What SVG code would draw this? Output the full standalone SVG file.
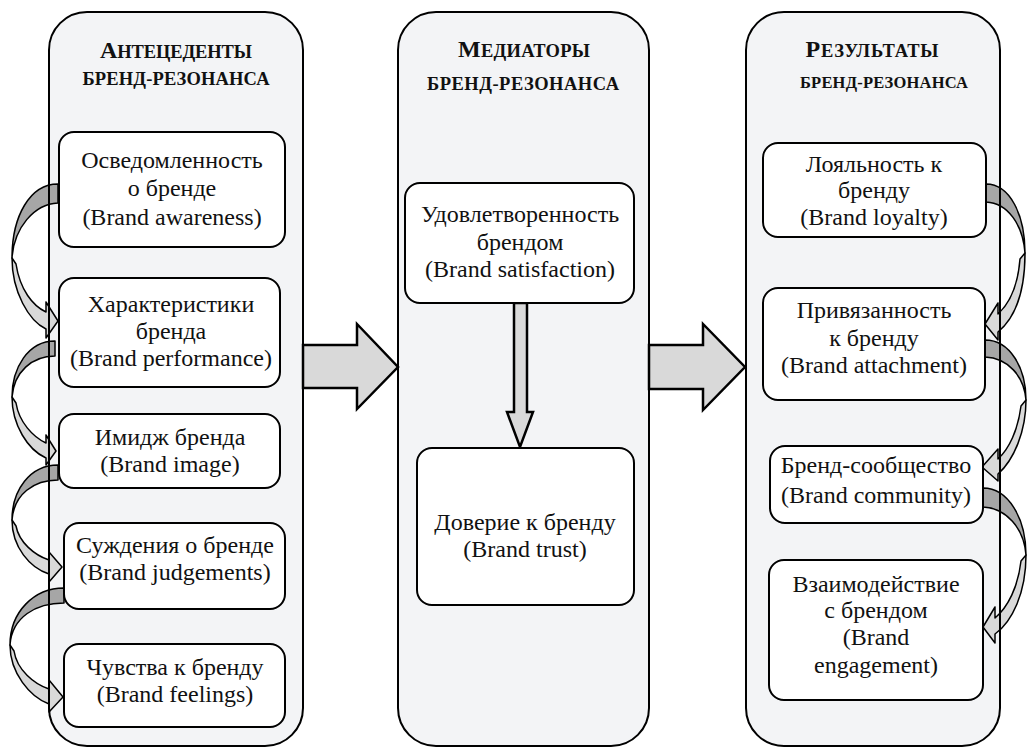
<svg xmlns="http://www.w3.org/2000/svg" width="1028" height="750" viewBox="0 0 1028 750">
<style>
.col{fill:#f3f4f6;stroke:none}
.colb{fill:none;stroke:#000;stroke-width:2}
.node{fill:#fff;stroke:#000;stroke-width:2}
.t{font-family:"Liberation Serif","Times New Roman",serif;font-size:24px;fill:#111;text-anchor:middle}
.h{font-family:"Liberation Serif","Times New Roman",serif;font-weight:bold;font-size:18.5px;fill:#111;text-anchor:middle}
.big{font-size:24px}
.sm{font-size:16.5px}
.dark{fill:#a6a6a6;stroke:#000;stroke-width:1.5;stroke-linejoin:round}
.light{fill:#d9d9d9;stroke:#000;stroke-width:1.5;stroke-linejoin:round}
.arr{fill:#d9d9d9;stroke:#000;stroke-width:2.5;stroke-linejoin:miter}
</style>
<g id="columns-bg">
<rect class="col" x="49" y="12" width="254" height="734" rx="38"/>
<rect class="col" x="398" y="12" width="251" height="734" rx="38"/>
<rect class="col" x="746" y="12" width="254" height="734" rx="38"/>
</g>
<g id="connectors">
<g id="curved-left">
<path class="dark" d="M58,184 C30,184 12,216 12,258 C14,228 34,204 58,203 Z"/>
<path class="light" d="M12,258 C12,292 29,321 46,329 L46,338 L58,321 L46,302 L46,312 C33,306 20,290 16,264 Z"/>
<path class="dark" d="M55,341 C28,341 12,368 12,397 C14,372 32,356 55,356 Z"/>
<path class="light" d="M12,397 C12,425 28,450 46,458 L46,465 L56,451 L46,435 L46,443 C33,437 19,422 16,403 Z"/>
<path class="dark" d="M58,465 C30,465 12,490 12,520 C14,494 34,480 58,480 Z"/>
<path class="light" d="M12,520 C12,547 30,568 49,574 L49,582 L62,567 L49,552 L49,560 C34,555 19,542 16,526 Z"/>
<path class="dark" d="M64,588 C34,588 10,612 10,645 C12,617 36,603 64,603 Z"/>
<path class="light" d="M10,645 C10,673 30,697 49,704 L49,712 L63,697 L49,680 L49,689 C34,684 17,670 14,651 Z"/>
</g>
<g id="curved-right">
<path class="dark" d="M986,184 C1010,184 1025,215 1025,253 C1023,225 1008,203 986,202 Z"/>
<path class="light" d="M1025,253 C1025,291 1015,318 998,332 L998,340 L985,324 L998,303 L998,314 C1010,303 1018,284 1020,259 Z"/>
<path class="dark" d="M985,340 C1010,340 1026,368 1026,400 C1024,376 1008,358 985,357 Z"/>
<path class="light" d="M1026,400 C1026,431 1014,460 998,474 L998,481 L982,467 L998,449 L998,459 C1009,449 1018,430 1021,406 Z"/>
<path class="dark" d="M983,488 C1008,488 1026,518 1026,555 C1024,528 1006,508 983,507 Z"/>
<path class="light" d="M1026,555 C1026,593 1012,622 995,634 L995,643 L983,627 L995,607 L995,618 C1008,607 1018,587 1021,561 Z"/>
</g>
</g>
<g id="columns">
<g id="col-antecedents">
<rect class="colb" x="49" y="12" width="254" height="734" rx="38"/>
<text class="h" x="176" y="58" textLength="152" lengthAdjust="spacing"><tspan class="big">А</tspan>НТЕЦЕДЕНТЫ</text>
<text class="h" x="176" y="85" textLength="187" lengthAdjust="spacing">БРЕНД-РЕЗОНАНСА</text>
</g>
<g id="col-mediators">
<rect class="colb" x="398" y="12" width="251" height="734" rx="38"/>
<text class="h" x="524" y="57" textLength="132" lengthAdjust="spacing"><tspan class="big">М</tspan>ЕДИАТОРЫ</text>
<text class="h" x="523" y="90" textLength="192" lengthAdjust="spacing">БРЕНД-РЕЗОНАНСА</text>
</g>
<g id="col-results">
<rect class="colb" x="746" y="12" width="254" height="734" rx="38"/>
<text class="h" x="872" y="57" textLength="133" lengthAdjust="spacing"><tspan class="big">Р</tspan>ЕЗУЛЬТАТЫ</text>
<text class="h sm" x="884" y="88" textLength="168" lengthAdjust="spacing">БРЕНД-РЕЗОНАНСА</text>
</g>
</g>
<g id="main-arrows">
<polygon class="arr" points="303,345 357,345 357,324 398,367 357,409 357,388 303,388"/>
<polygon class="arr" points="649,345 703,345 703,324 745,367 703,410 703,389 649,389"/>
<polygon class="arr" points="514,303 527,303 527,412 533,412 520,447 507,412 514,412"/>
</g>
<g id="n-awareness">
<rect class="node" x="59" y="132" width="226" height="115" rx="15"/>
<text class="t" x="172" y="168">Осведомленность</text>
<text class="t" x="172" y="196">о бренде</text>
<text class="t" x="172" y="225">(Brand awareness)</text>
</g>
<g id="n-performance">
<rect class="node" x="59" y="278" width="221" height="109" rx="15"/>
<text class="t" x="171" y="312">Характеристики</text>
<text class="t" x="171" y="339">бренда</text>
<text class="t" x="171" y="366">(Brand performance)</text>
</g>
<g id="n-image">
<rect class="node" x="59" y="414" width="221" height="74" rx="15"/>
<text class="t" x="170" y="445">Имидж бренда</text>
<text class="t" x="170" y="472">(Brand image)</text>
</g>
<g id="n-judgements">
<rect class="node" x="64" y="523" width="221" height="86" rx="15"/>
<text class="t" x="175" y="553">Суждения о бренде</text>
<text class="t" x="175" y="580">(Brand judgements)</text>
</g>
<g id="n-feelings">
<rect class="node" x="64" y="644" width="221" height="83" rx="15"/>
<text class="t" x="175" y="675">Чувства к бренду</text>
<text class="t" x="175" y="702">(Brand feelings)</text>
</g>
<g id="n-satisfaction">
<rect class="node" x="405" y="183" width="229" height="120" rx="15"/>
<text class="t" x="520" y="222">Удовлетворенность</text>
<text class="t" x="520" y="250">брендом</text>
<text class="t" x="520" y="277">(Brand satisfaction)</text>
</g>
<g id="n-trust">
<rect class="node" x="417" y="448" width="217" height="157" rx="15"/>
<text class="t" x="525" y="530">Доверие к бренду</text>
<text class="t" x="525" y="557">(Brand trust)</text>
</g>
<g id="n-loyalty">
<rect class="node" x="763" y="143" width="223" height="94" rx="15"/>
<text class="t" x="874" y="172">Лояльность к</text>
<text class="t" x="874" y="198">бренду</text>
<text class="t" x="874" y="225">(Brand loyalty)</text>
</g>
<g id="n-attachment">
<rect class="node" x="763" y="288" width="222" height="112" rx="15"/>
<text class="t" x="874" y="318">Привязанность</text>
<text class="t" x="874" y="346">к бренду</text>
<text class="t" x="874" y="373">(Brand attachment)</text>
</g>
<g id="n-community">
<rect class="node" x="770" y="446" width="213" height="77" rx="15"/>
<text class="t" x="876" y="473">Бренд-сообщество</text>
<text class="t" x="876" y="503">(Brand community)</text>
</g>
<g id="n-engagement">
<rect class="node" x="769" y="560" width="214" height="140" rx="15"/>
<text class="t" x="876" y="592">Взаимодействие</text>
<text class="t" x="876" y="618">с брендом</text>
<text class="t" x="876" y="645">(Brand</text>
<text class="t" x="876" y="673">engagement)</text>
</g>
</svg>
